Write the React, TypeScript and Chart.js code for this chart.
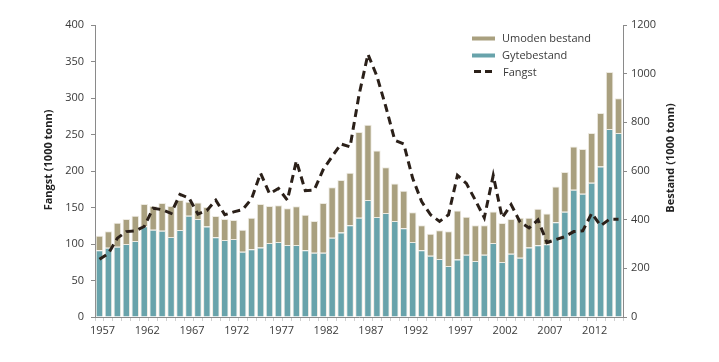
import React, { useEffect, useRef } from "react";
import { Chart, registerables } from "chart.js";

Chart.register(...registerables);

const years = [
  "1957", "1958", "1959", "1960", "1961", "1962", "1963", "1964", "1965", "1966",
  "1967", "1968", "1969", "1970", "1971", "1972", "1973", "1974", "1975", "1976",
  "1977", "1978", "1979", "1980", "1981", "1982", "1983", "1984", "1985", "1986",
  "1987", "1988", "1989", "1990", "1991", "1992", "1993", "1994", "1995", "1996",
  "1997", "1998", "1999", "2000", "2001", "2002", "2003", "2004", "2005", "2006",
  "2007", "2008", "2009", "2010", "2011", "2012", "2013", "2014", "2015",
];

// Gytebestand (1000 tonn), right axis
const gytebestand = [
  274, 285, 289, 300, 312, 373, 359, 354, 329, 358,
  416, 403, 372, 328, 316, 321, 268, 278, 286, 304,
  308, 296, 296, 274, 264, 264, 326, 347, 377, 408,
  481, 411, 427, 395, 365, 308, 274, 252, 238, 210,
  236, 256, 230, 256, 304, 226, 260, 244, 286, 295,
  299, 389, 433, 523, 506, 552, 618, 773, 756,
];

// Umoden bestand (1000 tonn), stacked on top, right axis
const umodenBestand = [
  60, 67, 98, 103, 104, 91, 97, 114, 127, 123,
  58, 68, 80, 87, 87, 78, 91, 130, 178, 152,
  151, 151, 159, 146, 131, 205, 207, 216, 216, 352,
  309, 273, 188, 154, 154, 122, 103, 90, 118, 142,
  202, 156, 147, 121, 130, 160, 143, 164, 122, 150,
  126, 147, 163, 178, 184, 204, 220, 234, 143,
];

// Fangst (1000 tonn), left axis
const fangst = [
  79, 87, 108, 117, 118, 124, 149, 147, 142, 168,
  163, 141, 146, 160, 140, 144, 147, 162, 197, 169,
  176, 160, 214, 173, 174, 202, 220, 237, 233, 304,
  360, 330, 288, 242, 237, 190, 158, 140, 131, 140,
  194, 183, 160, 136, 194, 136, 154, 130, 122, 133,
  102, 106, 110, 117, 118, 142, 125, 134, 134,
];

const leftTicksMax = 400;
const rightTicksMax = 1200;

const TAN = "#a9a07f";
const TEAL = "#68a3ab";
const LINE = "#2b2019";
const TEXT = "#3a3a3a";
const AXIS = "#8a8a8a";
const FONT = "'Open Sans', sans-serif";

const overlayPlugin = {
  id: "overlay",
  afterDraw(chart: any) {
    const ctx = chart.ctx as CanvasRenderingContext2D;
    ctx.save();
    // axis titles
    ctx.fillStyle = "#222";
    ctx.font = `bold 11px ${FONT}`;
    ctx.textAlign = "center";
    ctx.textBaseline = "middle";
    ctx.save();
    ctx.translate(49, 160);
    ctx.rotate(-Math.PI / 2);
    ctx.fillText("Fangst (1000 tonn)", 0, 0);
    ctx.restore();
    ctx.save();
    ctx.translate(671, 158);
    ctx.rotate(-Math.PI / 2);
    ctx.fillText("Bestand (1000 tonn)", 0, 0);
    ctx.restore();

    // legend
    ctx.font = `11px ${FONT}`;
    ctx.textAlign = "left";
    ctx.fillStyle = TAN;
    ctx.fillRect(472, 36.5, 23, 4);
    ctx.fillStyle = TEAL;
    ctx.fillRect(472, 53.5, 23, 4);
    ctx.strokeStyle = LINE;
    ctx.lineWidth = 3;
    ctx.beginPath();
    ctx.moveTo(474, 71.5);
    ctx.lineTo(481, 71.5);
    ctx.moveTo(485, 71.5);
    ctx.lineTo(492, 71.5);
    ctx.stroke();
    ctx.fillStyle = TEXT;
    ctx.fillText("Umoden bestand", 502, 38.5);
    ctx.fillText("Gytebestand", 502, 55.5);
    ctx.fillText("Fangst", 503, 73);
    ctx.restore();
  },
};

export default function App() {
  const ref = useRef<HTMLCanvasElement | null>(null);

  useEffect(() => {
    if (!ref.current) return;
    const tickFont = { family: FONT, size: 11 };
    const chart = new Chart(ref.current, {
      type: "bar",
      data: {
        labels: years,
        datasets: [
          {
            type: "line",
            label: "Fangst",
            data: fangst,
            yAxisID: "y",
            borderColor: LINE,
            borderWidth: 3,
            borderDash: [8, 5],
            pointRadius: 0,
            tension: 0,
            fill: false,
            order: 0,
          } as any,
          {
            label: "Gytebestand",
            data: gytebestand,
            yAxisID: "y1",
            backgroundColor: TEAL,
            borderColor: "rgba(235,232,222,0.9)",
            borderWidth: 1,
            borderSkipped: "bottom",
            stack: "s",
            order: 1,
            categoryPercentage: 1,
            barPercentage: 0.84,
          },
          {
            label: "Umoden bestand",
            data: umodenBestand,
            yAxisID: "y1",
            backgroundColor: TAN,
            borderColor: "rgba(235,232,222,0.9)",
            borderWidth: 1,
            borderSkipped: "bottom",
            stack: "s",
            order: 1,
            categoryPercentage: 1,
            barPercentage: 0.84,
          },
        ],
      },
      options: {
        responsive: false,
        animation: false,
        layout: { padding: { top: 25, left: 0, right: 0, bottom: 0 } },
        plugins: {
          legend: { display: false },
          tooltip: { enabled: false },
        },
        scales: {
          x: {
            type: "category",
            stacked: true,
            offset: true,
            grid: {
              display: true,
              drawOnChartArea: false,
              drawTicks: true,
              tickLength: 4,
              color: "#cfcfcf",
              offset: true,
            },
            border: { color: AXIS, width: 1 },
            ticks: {
              autoSkip: false,
              maxRotation: 0,
              minRotation: 0,
              padding: 3,
              labelOffset: 3,
              color: TEXT,
              font: tickFont,
              callback: (_v: any, i: number) => (i % 5 === 0 ? years[i] : ""),
            },
            afterFit: (s: any) => {
              s.height = 45;
            },
          },
          y: {
            type: "linear",
            position: "left",
            min: 0,
            max: leftTicksMax,
            grid: {
              drawOnChartArea: false,
              drawTicks: true,
              tickLength: 4,
              color: AXIS,
            },
            border: { color: AXIS, width: 1 },
            ticks: {
              stepSize: 50,
              padding: 7,
              color: TEXT,
              font: tickFont,
              callback: (v: any) => String(v),
            },
            afterFit: (s: any) => {
              s.width = 95;
            },
          },
          y1: {
            type: "linear",
            position: "right",
            stacked: true,
            min: 0,
            max: rightTicksMax,
            grid: {
              drawOnChartArea: false,
              drawTicks: true,
              tickLength: 4,
              color: AXIS,
            },
            border: { color: AXIS, width: 1 },
            ticks: {
              stepSize: 200,
              padding: 4,
              color: TEXT,
              font: tickFont,
              callback: (v: any) => String(v),
            },
            afterFit: (s: any) => {
              s.width = 96;
            },
          },
        },
      },
      plugins: [overlayPlugin],
    });
    return () => chart.destroy();
  }, []);

  return (
    <div style={{ position: "fixed", left: 0, top: 0, width: 719, height: 362, background: "#fff" }}>
      <canvas ref={ref} width={719} height={362} style={{ width: 719, height: 362, display: "block" }} />
    </div>
  );
}
